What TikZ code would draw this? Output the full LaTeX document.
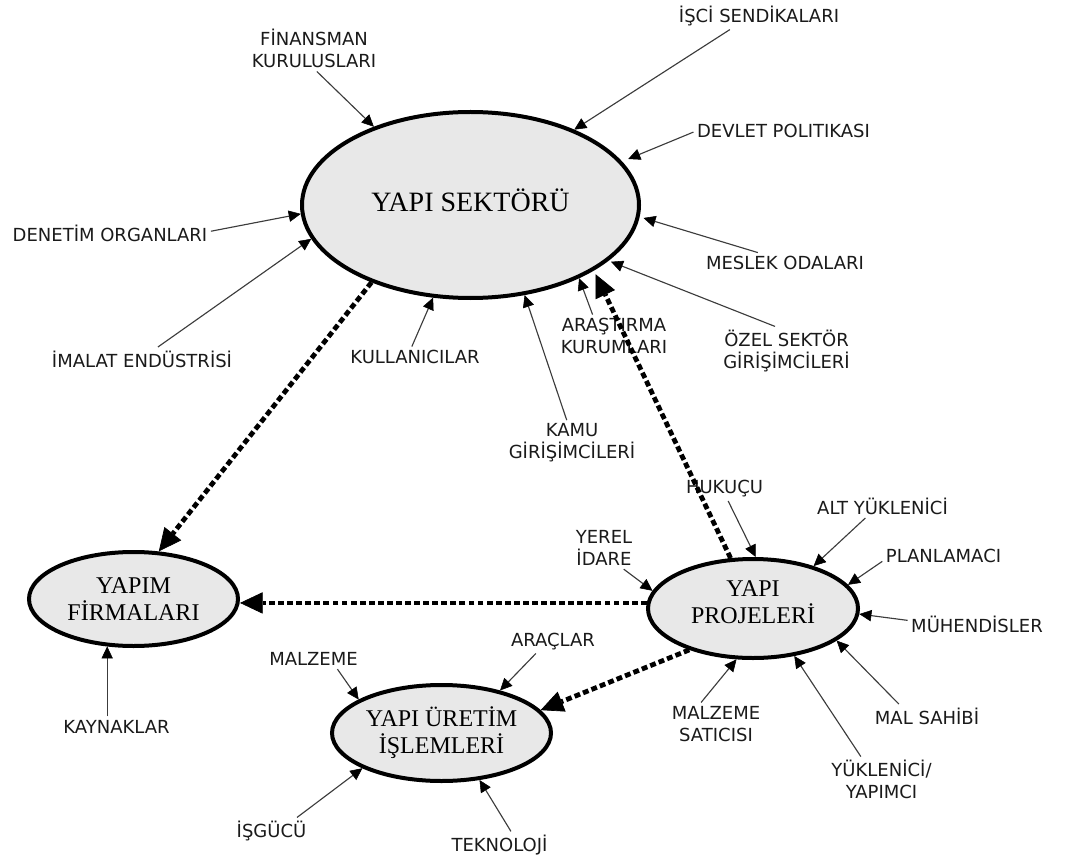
\documentclass[tikz,border=0pt]{standalone}
\usepackage{fontspec}
\setmainfont{Liberation Serif}
\newfontfamily\labfont{DejaVu Sans}
\usetikzlibrary{shapes.geometric,arrows.meta}
\definecolor{ellfill}{HTML}{E8E8E8}
\definecolor{labtext}{HTML}{1A1A1A}
\definecolor{linegray}{HTML}{3C3C3C}
\tikzset{
  ell/.style={ellipse, draw=black, line width=3pt, fill=ellfill, inner sep=0pt,
    align=center, font=\fontsize{18}{20.25}\selectfont},
  lab/.style={font=\labfont\fontsize{13.5}{16.5}\selectfont, text=labtext,
    inner sep=2.5pt, align=center},
  thinarrow/.style={draw=linegray, line width=0.85pt,
    -{Triangle[length=9pt,width=8.5pt,fill=black,line width=0.4pt,color=black]}},
  dotarrow/.style={draw=black, line width=3.6pt, dash pattern=on 4.4pt off 2.4pt,
    -{Triangle[length=17pt,width=16pt,line width=0.5pt]}}
}
\begin{document}
\begin{tikzpicture}[x=0.75pt,y=-0.75pt]
\useasboundingbox (0,0) rectangle (1066,859);

% main ellipses
\node[ell, minimum width=252.75pt, minimum height=139.5pt,
  font=\fontsize{21}{24}\selectfont, text height=14.5pt, text depth=4.8pt]
  (sector) at (470.5,205) {YAPI SEKTÖRÜ};
\node[ell, minimum width=157.5pt, minimum height=74.25pt, text depth=9.8pt]
  (proj) at (753,608.5) {YAPI\\PROJELERİ};
\node[ell, minimum width=156.75pt, minimum height=70.5pt]
  (firm) at (133.5,599) {YAPIM\\FİRMALARI};
\node[ell, minimum width=164.25pt, minimum height=72pt]
  (uret) at (441.5,733) {YAPI ÜRETİM\\İŞLEMLERİ};

% labels around YAPI SEKTÖRÜ
\node[lab] (fin) at (314,48.5) {FİNANSMAN\\KURULUSLARI};
\node[lab] (isci) at (759,16) {İŞCİ SENDİKALARI};
\node[lab] (devlet) at (783.5,130.5) {DEVLET POLITIKASI};
\node[lab] (denetim) at (110,233) {DENETİM ORGANLARI};
\node[lab] (imalat) at (142,359) {İMALAT ENDÜSTRİSİ};
\node[lab] (kullan) at (415,357) {KULLANICILAR};
\node[lab] (kamu) at (572,443) {KAMU\\GİRİŞİMCİLERİ};
\node[lab] (arastirma) at (614,336) {ARAŞTIRMA\\KURUMLARI};
\node[lab] (meslek) at (785,263) {MESLEK ODALARI};
\node[lab] (ozel) at (786.5,351) {ÖZEL SEKTÖR\\GİRİŞİMCİLERİ};

% labels around YAPI PROJELERİ
\node[lab] (hukucu) at (724.5,489) {HUKUÇU};
\node[lab] (alt) at (882.5,506) {ALT YÜKLENİCİ};
\node[lab] (plan) at (943.5,556) {PLANLAMACI};
\node[lab] (muh) at (977,624) {MÜHENDİSLER};
\node[lab] (malsahibi) at (927,716) {MAL SAHİBİ};
\node[lab] (yuklenici) at (881.5,779.5) {YÜKLENİCİ/\\YAPIMCI};
\node[lab] (malzsat) at (716,723.75) {MALZEME\\SATICISI};
\node[lab] (yerel) at (604,548) {YEREL\\İDARE};

% labels around YAPIM FİRMALARI and YAPI ÜRETİM İŞLEMLERİ
\node[lab] (kaynak) at (116.5,726.5) {KAYNAKLAR};
\node[lab] (malzeme) at (313.5,659) {MALZEME};
\node[lab] (araclar) at (553,641.5) {ARAÇLAR};
\node[lab] (isgucu) at (271.5,831) {İŞGÜCÜ};
\node[lab] (teknoloji) at (499.5,845) {TEKNOLOJİ};

% thin arrows into YAPI SEKTÖRÜ
\draw[thinarrow] (fin.277) -- (sector.141);
\draw[thinarrow] (isci.205) -- (sector.36);
\draw[thinarrow, shorten >=5pt] (devlet.181) -- (sector.16);
\draw[thinarrow] (denetim.1.5) -- (sector.183);
\draw[thinarrow] (imalat.37) -- (sector.192);
\draw[thinarrow] (kullan.107) -- (sector.248);
\draw[thinarrow] (kamu.103) -- (sector.301);
\draw[thinarrow] (arastirma.135) -- (sector.326);
\draw[thinarrow, shorten >=3pt] (meslek.159) -- (sector.356);
\draw[thinarrow, shorten >=2pt] (ozel.115) -- (sector.338.5);

% thin arrows into YAPI PROJELERİ
\draw[thinarrow] (hukucu.287) -- (proj.87);
\draw[thinarrow] (alt.215.7) -- (proj.35.6);
\draw[thinarrow] (plan.185.5) -- (proj.14);
\draw[thinarrow] (muh.177.7) -- (proj.357);
\draw[thinarrow] (malsahibi.157) -- (proj.339.8);
\draw[thinarrow] (yuklenici.132) -- (proj.311);
\draw[thinarrow] (malzsat.125) -- (proj.252);
\draw[thinarrow] (yerel.313.5) -- (proj.170);

% thin arrows into YAPIM FİRMALARI and YAPI ÜRETİM İŞLEMLERİ
\draw[thinarrow] (kaynak.north -| firm.241) -- (firm.241);
\draw[thinarrow] (malzeme.337) -- (uret.158);
\draw[thinarrow] (araclar.215) -- (uret.36.8);
\draw[thinarrow] (isgucu.28) -- (uret.204);
\draw[thinarrow] (teknoloji.50) -- (uret.309.6);

% thick dotted flows
\draw[dotarrow] (sector.218) -- (firm.62);
\draw[dotarrow, shorten >=3pt] (proj.114) -- (sector.332);
\draw[dotarrow] (proj.177) -- (proj.177 -| firm.east);
\draw[dotarrow] (proj.213) -- (uret.13);
\end{tikzpicture}
\end{document}
